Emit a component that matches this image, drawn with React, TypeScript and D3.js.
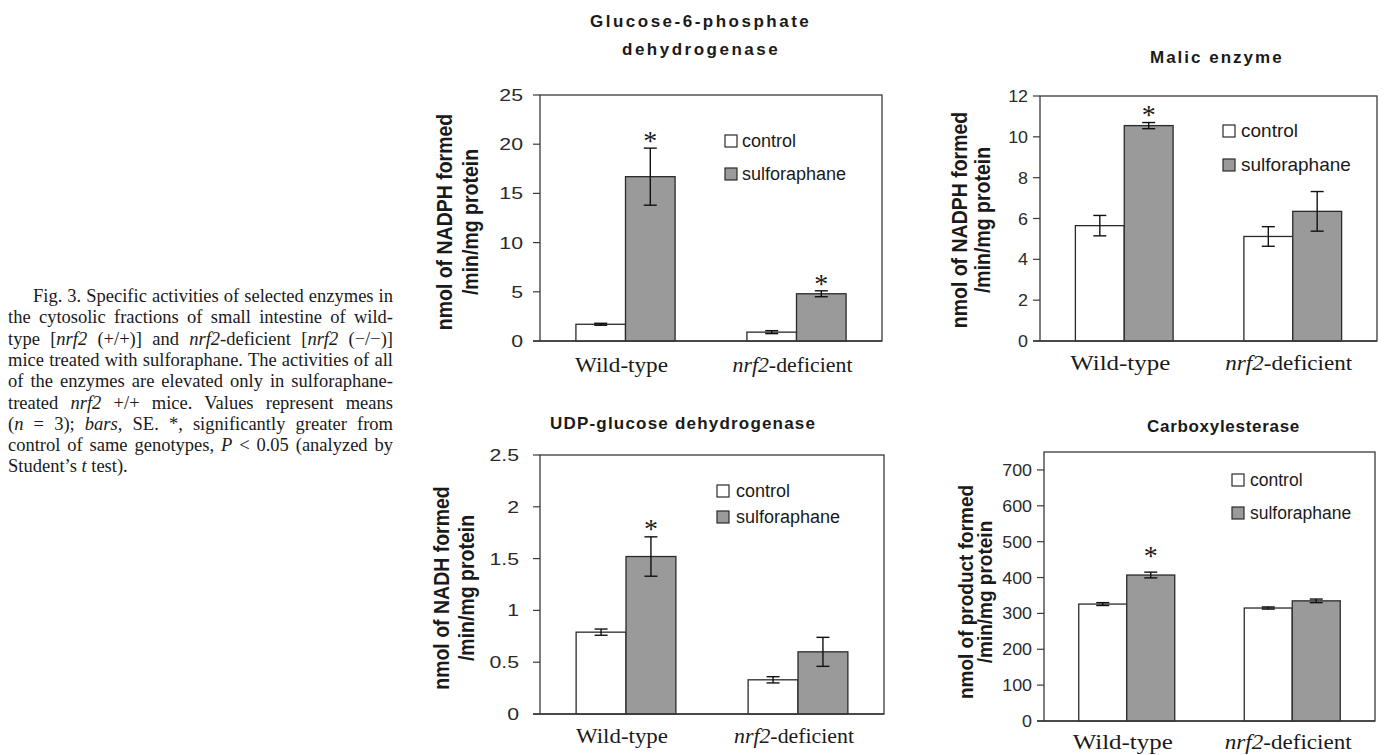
import React, { useLayoutEffect, useRef } from 'react';
import * as d3 from 'd3';

// ---------- DATA ----------
const groups = ['Wild-type', 'nrf2-deficient'];
const seriesNames = ['control', 'sulforaphane'];

// Glucose-6-phosphate dehydrogenase
const g6pdControl = [1.7, 0.9];
const g6pdControlErr = [0.1, 0.15];
const g6pdSulf = [16.7, 4.8];
const g6pdSulfErr = [2.9, 0.3];
const g6pdSig = [true, true];
const g6pdTicks = [0, 5, 10, 15, 20, 25];

// Malic enzyme
const malicControl = [5.65, 5.12];
const malicControlErr = [0.5, 0.48];
const malicSulf = [10.55, 6.35];
const malicSulfErr = [0.15, 0.97];
const malicSig = [true, false];
const malicTicks = [0, 2, 4, 6, 8, 10, 12];

// UDP-glucose dehydrogenase
const udpControl = [0.79, 0.33];
const udpControlErr = [0.03, 0.03];
const udpSulf = [1.52, 0.6];
const udpSulfErr = [0.19, 0.14];
const udpSig = [true, false];
const udpTicks = [0, 0.5, 1, 1.5, 2, 2.5];

// Carboxylesterase
const ceControl = [326, 315];
const ceControlErr = [4, 3];
const ceSulf = [407, 335];
const ceSulfErr = [8, 5];
const ceSig = [true, false];
const ceTicks = [0, 100, 200, 300, 400, 500, 600, 700];

// ---------- LAYOUT ----------
const SANS = '"Liberation Sans", Arial, sans-serif';
const SERIF = '"Liberation Serif", "Times New Roman", serif';

type Layout = {
  left: number; right: number; top: number; bottom: number; yMax: number;
  title: { text: string; x: number; y: number; ls: number }[];
  yTitle: string[]; yTitleX: number[]; yTitleCy: number; yTitleSize: number;
  tickRight: number; tickSx: number;
  legendX: number; legendY: number[]; legendTextX: number; legendSize: number;
  labelY: number; labelW: number[]; starGap: number;
};

const layouts: Layout[] = [
  {
    left: 540, right: 882, top: 95, bottom: 341, yMax: 25,
    title: [
      { text: 'Glucose-6-phosphate', x: 590, y: 27, ls: 2.5 },
      { text: 'dehydrogenase', x: 622, y: 55, ls: 2.5 },
    ],
    yTitle: ['nmol of NADPH formed', '/min/mg protein'], yTitleX: [452, 478], yTitleCy: 222, yTitleSize: 19.5,
    tickRight: 523, tickSx: 1.25,
    legendX: 725, legendY: [135, 168], legendTextX: 742, legendSize: 18,
    labelY: 372, labelW: [93, 120], starGap: 11,
  },
  {
    left: 1040, right: 1377, top: 96, bottom: 341, yMax: 12,
    title: [{ text: 'Malic enzyme', x: 1150, y: 63, ls: 2 }],
    yTitle: ['nmol of NADPH formed', '/min/mg protein'], yTitleX: [967, 990], yTitleCy: 220, yTitleSize: 19.5,
    tickRight: 1028, tickSx: 1.05,
    legendX: 1223, legendY: [125, 159], legendTextX: 1241, legendSize: 19,
    labelY: 370, labelW: [100, 127], starGap: 12,
  },
  {
    left: 540, right: 884, top: 455, bottom: 714, yMax: 2.5,
    title: [{ text: 'UDP-glucose dehydrogenase', x: 550, y: 429, ls: 1.2 }],
    yTitle: ['nmol of NADH formed', '/min/mg protein'], yTitleX: [449, 474], yTitleCy: 588, yTitleSize: 19.5,
    tickRight: 519, tickSx: 1.25,
    legendX: 717, legendY: [485, 511], legendTextX: 736, legendSize: 18,
    labelY: 743, labelW: [92, 120], starGap: 12,
  },
  {
    left: 1044, right: 1375, top: 452, bottom: 721, yMax: 750,
    title: [{ text: 'Carboxylesterase', x: 1147, y: 432, ls: 0.7 }],
    yTitle: ['nmol of product formed', '/min/mg protein'], yTitleX: [973, 992], yTitleCy: 592, yTitleSize: 19,
    tickRight: 1032, tickSx: 1.05,
    legendX: 1232, legendY: [474, 507], legendTextX: 1250, legendSize: 17.5,
    labelY: 749, labelW: [100, 127], starGap: 20,
  },
];

type PanelData = {
  values: number[][]; errs: number[][]; sig: boolean[]; ticks: number[];
};

const panelData: PanelData[] = [
  { values: [g6pdControl, g6pdSulf], errs: [g6pdControlErr, g6pdSulfErr], sig: g6pdSig, ticks: g6pdTicks },
  { values: [malicControl, malicSulf], errs: [malicControlErr, malicSulfErr], sig: malicSig, ticks: malicTicks },
  { values: [udpControl, udpSulf], errs: [udpControlErr, udpSulfErr], sig: udpSig, ticks: udpTicks },
  { values: [ceControl, ceSulf], errs: [ceControlErr, ceSulfErr], sig: ceSig, ticks: ceTicks },
];

const fills = ['#ffffff', '#9a9a9a'];
const STROKE = '#2a2a2a';

// caption
type Seg = [string, boolean];
const captionLines: Seg[][] = [
  [['Fig. 3. Specific activities of selected enzymes in', false]],
  [['the cytosolic fractions of small intestine of wild-', false]],
  [['type [', false], ['nrf2', true], [' (+/+)] and ', false], ['nrf2', true], ['-deficient [', false], ['nrf2', true], [' (\u2212/\u2212)]', false]],
  [['mice treated with sulforaphane. The activities of all', false]],
  [['of the enzymes are elevated only in sulforaphane-', false]],
  [['treated ', false], ['nrf2', true], [' +/+ mice. Values represent means', false]],
  [['(', false], ['n', true], [' = 3); ', false], ['bars,', true], [' SE. *, significantly greater from', false]],
  [['control of same genotypes, ', false], ['P', true], [' < 0.05 (analyzed by', false]],
  [['Student\u2019s ', false], ['t', true], [' test).', false]],
];

function Panel({ L, D }: { L: Layout; D: PanelData }) {
  const y = d3.scaleLinear().domain([0, L.yMax]).range([L.bottom, L.top]);
  const xb = d3.scaleBand().domain(groups).range([L.left, L.right]).paddingInner(0).paddingOuter(0);
  const bw = xb.bandwidth();
  const barW = bw * 0.29;
  const sub = d3.scaleBand().domain(seriesNames).range([-barW, barW]);
  const capHalf = 6.5;

  return (
    <g>
      {L.title.map((t, i) => (
        <text key={i} x={t.x} y={t.y} fontFamily={SANS} fontWeight="bold" fontSize={17}
          letterSpacing={t.ls} fill="#1a1a1a">{t.text}</text>
      ))}
      <rect x={L.left} y={L.top} width={L.right - L.left} height={L.bottom - L.top}
        fill="none" stroke="#3a3a3a" strokeWidth={1.3} />
      {D.ticks.map((t) => (
        <g key={t}>
          <line x1={L.left - 7} x2={L.left} y1={y(t)} y2={y(t)} stroke="#3a3a3a" strokeWidth={1.2} />
          <text transform={`translate(${L.tickRight},${y(t) + 6}) scale(${L.tickSx},1)`}
            textAnchor="end" fontFamily={SANS} fontSize={17} fill="#2a2a2a">{String(t)}</text>
        </g>
      ))}
      {groups.map((g, gi) => {
        const cx = (xb(g) as number) + bw / 2;
        return seriesNames.map((s, si) => {
          const v = D.values[si][gi];
          const e = D.errs[si][gi];
          const x0 = cx + (sub(s) as number);
          const bx = x0 + barW / 2;
          const yTop = y(v + e);
          const yBot = y(v - e);
          return (
            <g key={g + s}>
              <rect x={x0} y={y(v)} width={barW} height={L.bottom - y(v)} fill={fills[si]}
                stroke={STROKE} strokeWidth={1.3} />
              <line x1={bx} x2={bx} y1={yTop} y2={yBot} stroke="#111" strokeWidth={1.4} />
              <line x1={bx - capHalf} x2={bx + capHalf} y1={yTop} y2={yTop} stroke="#111" strokeWidth={1.4} />
              <line x1={bx - capHalf} x2={bx + capHalf} y1={yBot} y2={yBot} stroke="#111" strokeWidth={1.4} />
              {si === 1 && D.sig[gi] && (
                <text x={bx} y={yTop - L.starGap + 13} textAnchor="middle" fontFamily={SERIF}
                  fontSize={28} fill="#1a1a1a">*</text>
              )}
            </g>
          );
        });
      })}
      <line x1={L.left - 7} x2={L.right} y1={L.bottom} y2={L.bottom} stroke="#3a3a3a" strokeWidth={1.4} />
      {groups.map((g, gi) => {
        const cx = (xb(g) as number) + bw / 2 - 4;
        return (
          <text key={g} x={cx} y={L.labelY} textAnchor="middle" fontFamily={SERIF} fontSize={21}
            fill="#1a1a1a" textLength={L.labelW[gi]} lengthAdjust="spacingAndGlyphs">
            {gi === 0 ? g : (<><tspan fontStyle="italic">nrf2</tspan>-deficient</>)}
          </text>
        );
      })}
      {L.yTitle.map((t, i) => (
        <text key={i} transform={`translate(${L.yTitleX[i]},${L.yTitleCy}) scale(1.1,1) rotate(-90)`}
          textAnchor="middle" fontFamily={SANS} fontWeight="bold" fontSize={L.yTitleSize}
          fill="#1a1a1a">{t}</text>
      ))}
      {seriesNames.map((s, si) => (
        <g key={s}>
          <rect x={L.legendX} y={L.legendY[si]} width={12} height={12} fill={fills[si]}
            stroke={STROKE} strokeWidth={1.2} />
          <text x={L.legendTextX} y={L.legendY[si] + 12} fontFamily={SANS} fontSize={L.legendSize}
            fill="#1a1a1a">{s}</text>
        </g>
      ))}
    </g>
  );
}

export default function App() {
  const capTop = 302;
  const capStep = 21.3;
  const capRight = 393;
  const refs = useRef<(SVGTextElement | null)[]>([]);

  useLayoutEffect(() => {
    refs.current.forEach((el, i) => {
      if (!el) return;
      if (i >= captionLines.length - 1) return;
      const x = i === 0 ? 33 : 8;
      el.setAttribute('word-spacing', '0');
      const len = el.getComputedTextLength();
      const txt = el.textContent || '';
      const spaces = (txt.match(/ /g) || []).length;
      if (spaces > 0) {
        const ws = (capRight - x - len) / spaces;
        el.setAttribute('word-spacing', String(ws));
      }
    });
  }, []);

  return (
    <svg width={1384} height={755} style={{ position: 'absolute', left: 0, top: 0, background: '#fff' }}>
      <rect x={0} y={0} width={1384} height={755} fill="#fff" />
      {captionLines.map((segs, i) => {
        const x = i === 0 ? 33 : 8;
        return (
          <text key={i} ref={(el) => { refs.current[i] = el; }} x={x} y={capTop + i * capStep}
            fontFamily={SERIF} fontSize={18.5} fill="#1a1a1a">
            {segs.map((s, j) => (
              <tspan key={j} fontStyle={s[1] ? 'italic' : 'normal'}>{s[0]}</tspan>
            ))}
          </text>
        );
      })}
      {layouts.map((L, i) => <Panel key={i} L={L} D={panelData[i]} />)}
    </svg>
  );
}
